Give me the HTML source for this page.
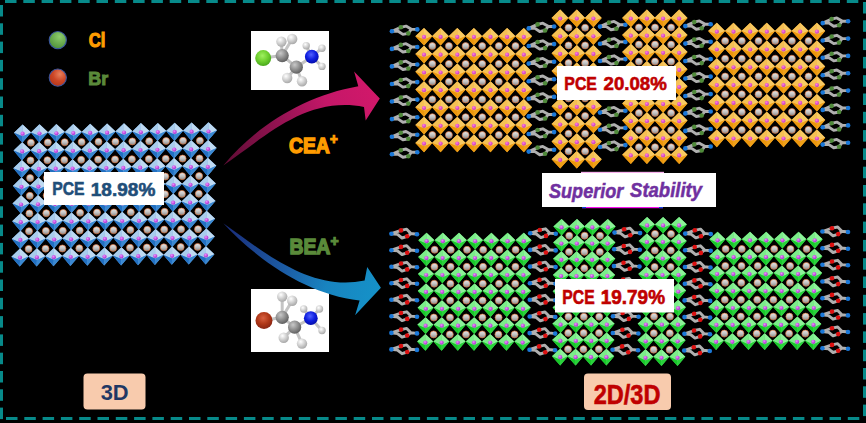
<!DOCTYPE html>
<html><head><meta charset="utf-8"><style>
html,body{margin:0;padding:0;background:#000;}
body{width:866px;height:423px;overflow:hidden;}
svg{display:block;}
</style></head><body>
<svg width="866" height="423" viewBox="0 0 866 423">
<rect width="866" height="423" fill="#000"/>

<defs>
 <linearGradient id="gs" x1="0" y1="0" x2="0" y2="1">
  <stop offset="0" stop-color="#e6e6e6"/><stop offset="0.5" stop-color="#c4c4c4"/><stop offset="1" stop-color="#8a8a8a"/>
 </linearGradient>
 <radialGradient id="gp" cx="0.4" cy="0.35" r="0.7">
  <stop offset="0" stop-color="#f090ff"/><stop offset="1" stop-color="#a020c8"/>
 </radialGradient>
 <radialGradient id="gpo" cx="0.4" cy="0.35" r="0.7">
  <stop offset="0" stop-color="#ff80e0"/><stop offset="1" stop-color="#c02cb8"/>
 </radialGradient>
 <symbol id="sph" overflow="visible"><circle r="3.5" fill="url(#gs)" stroke="#e07034" stroke-width="0.65"/></symbol>
 <symbol id="ob" overflow="visible">
  <path d="M0,-8.8 L8.5,-0.8 L-0.3,9.4 L-8.6,-0.5Z" fill="#6aa6dc"/>
  <path d="M0,-8.8 L-8.6,-0.5 L0,3Z" fill="#a9ccec"/>
  <path d="M0,-8.8 L0,3 L8.5,-0.8Z" fill="#bfdaf2"/>
  <path d="M-8.6,-0.5 L0,3 L-0.3,9.4Z" fill="#2270c2"/>
  <path d="M0,3 L8.5,-0.8 L-0.3,9.4Z" fill="#3a88d2"/>
  <circle cy="0.4" r="2.1" fill="url(#gp)"/>
 </symbol>
 <symbol id="oo" overflow="visible">
  <path d="M0,-8.7 L8.3,-0.4 L0,9 L-8.6,-0.4Z" fill="#f0a628"/>
  <path d="M0,-8.7 L-8.6,-0.4 L0,3Z" fill="#f5c054"/>
  <path d="M0,-8.7 L0,3 L8.3,-0.4Z" fill="#f8ca64"/>
  <path d="M-8.6,-0.4 L0,3 L0,9Z" fill="#ec960c"/>
  <path d="M0,3 L8.3,-0.4 L0,9Z" fill="#f0a018"/>
  <circle cy="0.3" r="2.1" fill="url(#gpo)"/>
 </symbol>
 <symbol id="og" overflow="visible">
  <path d="M0,-8.1 L7.8,-0.6 L0,8.6 L-8.2,-0.6Z" fill="#50d860"/>
  <path d="M0,-8.1 L-8.2,-0.6 L0,3Z" fill="#7cec8a"/>
  <path d="M0,-8.1 L0,3 L7.8,-0.6Z" fill="#8ef29a"/>
  <path d="M-8.2,-0.6 L0,3 L0,8.6Z" fill="#18c82a"/>
  <path d="M0,3 L7.8,-0.6 L0,8.6Z" fill="#28d23a"/>
  <circle cy="0.4" r="2.1" fill="url(#gp)"/>
 </symbol>
 <symbol id="spc" overflow="visible">
  <path d="M-12.7,0.9 L-6.4,0.9 L-1.7,4 L3.7,3 L6.8,-1.2 L1.4,-4.3 L-3.8,-3.1 Z M6.8,-1.2 L12.7,-1" fill="none" stroke="#b0b0b0" stroke-width="2.9" stroke-linejoin="round" stroke-linecap="round"/>
  <circle cx="3.7" cy="3" r="2.3" fill="#4f8a3a"/>
  <circle cx="-3.8" cy="-3.1" r="2.3" fill="#4f8a3a"/>
  <circle cx="-12.7" cy="0.9" r="2.3" fill="#1a78d8"/>
  <circle cx="12.7" cy="-1" r="2.3" fill="#1a78d8"/>
 </symbol>
 <symbol id="spb" overflow="visible">
  <path d="M-12.8,-0.3 L-6.7,0.4 L-2.2,4 L3,2.3 L6.7,-0.5 L2.5,-4.8 L-3.2,-3.6 Z M6.7,-0.5 L12.8,0.2" fill="none" stroke="#b0b0b0" stroke-width="2.9" stroke-linejoin="round" stroke-linecap="round"/>
  <circle cx="3" cy="2.3" r="2.3" fill="#dd1010"/>
  <circle cx="-3.2" cy="-3.6" r="2.3" fill="#dd1010"/>
  <circle cx="-12.8" cy="-0.3" r="2.3" fill="#1a78d8"/>
  <circle cx="12.8" cy="0.2" r="2.3" fill="#1a78d8"/>
 </symbol>
 <linearGradient id="ga1" x1="223" y1="165" x2="380" y2="95" gradientUnits="userSpaceOnUse">
  <stop offset="0" stop-color="#5e0c34"/><stop offset="0.4" stop-color="#941352"/><stop offset="0.7" stop-color="#c41768"/><stop offset="1" stop-color="#d2186a"/>
 </linearGradient>
 <linearGradient id="ga2" x1="223" y1="223" x2="381" y2="290" gradientUnits="userSpaceOnUse">
  <stop offset="0" stop-color="#1a2a78"/><stop offset="0.45" stop-color="#1c5ea6"/><stop offset="0.7" stop-color="#1884c0"/><stop offset="1" stop-color="#1592c8"/>
 </linearGradient>
 <radialGradient id="gH" cx="0.38" cy="0.32" r="0.7"><stop offset="0" stop-color="#ffffff"/><stop offset="1" stop-color="#a8a8a8"/></radialGradient>
 <radialGradient id="gC" cx="0.38" cy="0.32" r="0.7"><stop offset="0" stop-color="#c8c8c8"/><stop offset="1" stop-color="#5e5e5e"/></radialGradient>
 <radialGradient id="gN" cx="0.45" cy="0.35" r="0.7"><stop offset="0" stop-color="#5060ff"/><stop offset="0.5" stop-color="#1020e0"/><stop offset="1" stop-color="#0008a0"/></radialGradient>
 <radialGradient id="gCl" cx="0.45" cy="0.35" r="0.7"><stop offset="0" stop-color="#a0f060"/><stop offset="0.5" stop-color="#70d030"/><stop offset="1" stop-color="#40a018"/></radialGradient>
 <radialGradient id="gBr" cx="0.45" cy="0.35" r="0.7"><stop offset="0" stop-color="#d86040"/><stop offset="0.5" stop-color="#b03818"/><stop offset="1" stop-color="#802010"/></radialGradient>
 <radialGradient id="gLg" cx="0.6" cy="0.3" r="0.8"><stop offset="0" stop-color="#8ccc6c"/><stop offset="1" stop-color="#4a8c34"/></radialGradient>
 <radialGradient id="gLr" cx="0.62" cy="0.3" r="0.8"><stop offset="0" stop-color="#e8805c"/><stop offset="0.5" stop-color="#cc4626"/><stop offset="1" stop-color="#b03418"/></radialGradient>
</defs>

<g fill="#078a8a">
<rect x="5.0" y="0" width="11.5" height="3"/><rect x="23.3" y="0" width="11.5" height="3"/><rect x="41.6" y="0" width="11.5" height="3"/><rect x="59.9" y="0" width="11.5" height="3"/><rect x="78.2" y="0" width="11.5" height="3"/><rect x="96.5" y="0" width="11.5" height="3"/><rect x="114.8" y="0" width="11.5" height="3"/><rect x="133.1" y="0" width="11.5" height="3"/><rect x="151.4" y="0" width="11.5" height="3"/><rect x="169.7" y="0" width="11.5" height="3"/><rect x="188.0" y="0" width="11.5" height="3"/><rect x="206.3" y="0" width="11.5" height="3"/><rect x="224.6" y="0" width="11.5" height="3"/><rect x="242.9" y="0" width="11.5" height="3"/><rect x="261.2" y="0" width="11.5" height="3"/><rect x="279.5" y="0" width="11.5" height="3"/><rect x="297.8" y="0" width="11.5" height="3"/><rect x="316.1" y="0" width="11.5" height="3"/><rect x="334.4" y="0" width="11.5" height="3"/><rect x="352.7" y="0" width="11.5" height="3"/><rect x="371.0" y="0" width="11.5" height="3"/><rect x="389.3" y="0" width="11.5" height="3"/><rect x="407.6" y="0" width="11.5" height="3"/><rect x="425.9" y="0" width="11.5" height="3"/><rect x="444.2" y="0" width="11.5" height="3"/><rect x="462.5" y="0" width="11.5" height="3"/><rect x="480.8" y="0" width="11.5" height="3"/><rect x="499.1" y="0" width="11.5" height="3"/><rect x="517.4" y="0" width="11.5" height="3"/><rect x="535.7" y="0" width="11.5" height="3"/><rect x="554.0" y="0" width="11.5" height="3"/><rect x="572.3" y="0" width="11.5" height="3"/><rect x="590.6" y="0" width="11.5" height="3"/><rect x="608.9" y="0" width="11.5" height="3"/><rect x="627.2" y="0" width="11.5" height="3"/><rect x="645.5" y="0" width="11.5" height="3"/><rect x="663.8" y="0" width="11.5" height="3"/><rect x="682.1" y="0" width="11.5" height="3"/><rect x="700.4" y="0" width="11.5" height="3"/><rect x="718.7" y="0" width="11.5" height="3"/><rect x="737.0" y="0" width="11.5" height="3"/><rect x="755.3" y="0" width="11.5" height="3"/><rect x="773.6" y="0" width="11.5" height="3"/><rect x="791.9" y="0" width="11.5" height="3"/><rect x="810.2" y="0" width="11.5" height="3"/><rect x="828.5" y="0" width="11.5" height="3"/><rect x="846.8" y="0" width="11.5" height="3"/>
<rect x="6.0" y="417" width="11.5" height="3"/><rect x="24.3" y="417" width="11.5" height="3"/><rect x="42.6" y="417" width="11.5" height="3"/><rect x="60.9" y="417" width="11.5" height="3"/><rect x="79.2" y="417" width="11.5" height="3"/><rect x="97.5" y="417" width="11.5" height="3"/><rect x="115.8" y="417" width="11.5" height="3"/><rect x="134.1" y="417" width="11.5" height="3"/><rect x="152.4" y="417" width="11.5" height="3"/><rect x="170.7" y="417" width="11.5" height="3"/><rect x="189.0" y="417" width="11.5" height="3"/><rect x="207.3" y="417" width="11.5" height="3"/><rect x="225.6" y="417" width="11.5" height="3"/><rect x="243.9" y="417" width="11.5" height="3"/><rect x="262.2" y="417" width="11.5" height="3"/><rect x="280.5" y="417" width="11.5" height="3"/><rect x="298.8" y="417" width="11.5" height="3"/><rect x="317.1" y="417" width="11.5" height="3"/><rect x="335.4" y="417" width="11.5" height="3"/><rect x="353.7" y="417" width="11.5" height="3"/><rect x="372.0" y="417" width="11.5" height="3"/><rect x="390.3" y="417" width="11.5" height="3"/><rect x="408.6" y="417" width="11.5" height="3"/><rect x="426.9" y="417" width="11.5" height="3"/><rect x="445.2" y="417" width="11.5" height="3"/><rect x="463.5" y="417" width="11.5" height="3"/><rect x="481.8" y="417" width="11.5" height="3"/><rect x="500.1" y="417" width="11.5" height="3"/><rect x="518.4" y="417" width="11.5" height="3"/><rect x="536.7" y="417" width="11.5" height="3"/><rect x="555.0" y="417" width="11.5" height="3"/><rect x="573.3" y="417" width="11.5" height="3"/><rect x="591.6" y="417" width="11.5" height="3"/><rect x="609.9" y="417" width="11.5" height="3"/><rect x="628.2" y="417" width="11.5" height="3"/><rect x="646.5" y="417" width="11.5" height="3"/><rect x="664.8" y="417" width="11.5" height="3"/><rect x="683.1" y="417" width="11.5" height="3"/><rect x="701.4" y="417" width="11.5" height="3"/><rect x="719.7" y="417" width="11.5" height="3"/><rect x="738.0" y="417" width="11.5" height="3"/><rect x="756.3" y="417" width="11.5" height="3"/><rect x="774.6" y="417" width="11.5" height="3"/><rect x="792.9" y="417" width="11.5" height="3"/><rect x="811.2" y="417" width="11.5" height="3"/><rect x="829.5" y="417" width="11.5" height="3"/><rect x="847.8" y="417" width="11.5" height="3"/>
<rect x="0" y="5.0" width="3" height="11.5"/><rect x="0" y="23.3" width="3" height="11.5"/><rect x="0" y="41.6" width="3" height="11.5"/><rect x="0" y="59.9" width="3" height="11.5"/><rect x="0" y="78.2" width="3" height="11.5"/><rect x="0" y="96.5" width="3" height="11.5"/><rect x="0" y="114.8" width="3" height="11.5"/><rect x="0" y="133.1" width="3" height="11.5"/><rect x="0" y="151.4" width="3" height="11.5"/><rect x="0" y="169.7" width="3" height="11.5"/><rect x="0" y="188.0" width="3" height="11.5"/><rect x="0" y="206.3" width="3" height="11.5"/><rect x="0" y="224.6" width="3" height="11.5"/><rect x="0" y="242.9" width="3" height="11.5"/><rect x="0" y="261.2" width="3" height="11.5"/><rect x="0" y="279.5" width="3" height="11.5"/><rect x="0" y="297.8" width="3" height="11.5"/><rect x="0" y="316.1" width="3" height="11.5"/><rect x="0" y="334.4" width="3" height="11.5"/><rect x="0" y="352.7" width="3" height="11.5"/><rect x="0" y="371.0" width="3" height="11.5"/><rect x="0" y="389.3" width="3" height="11.5"/><rect x="0" y="407.6" width="3" height="11.5"/>
<rect x="863" y="2.0" width="3" height="11.5"/><rect x="863" y="20.3" width="3" height="11.5"/><rect x="863" y="38.6" width="3" height="11.5"/><rect x="863" y="56.9" width="3" height="11.5"/><rect x="863" y="75.2" width="3" height="11.5"/><rect x="863" y="93.5" width="3" height="11.5"/><rect x="863" y="111.8" width="3" height="11.5"/><rect x="863" y="130.1" width="3" height="11.5"/><rect x="863" y="148.4" width="3" height="11.5"/><rect x="863" y="166.7" width="3" height="11.5"/><rect x="863" y="185.0" width="3" height="11.5"/><rect x="863" y="203.3" width="3" height="11.5"/><rect x="863" y="221.6" width="3" height="11.5"/><rect x="863" y="239.9" width="3" height="11.5"/><rect x="863" y="258.2" width="3" height="11.5"/><rect x="863" y="276.5" width="3" height="11.5"/><rect x="863" y="294.8" width="3" height="11.5"/><rect x="863" y="313.1" width="3" height="11.5"/><rect x="863" y="331.4" width="3" height="11.5"/><rect x="863" y="349.7" width="3" height="11.5"/><rect x="863" y="368.0" width="3" height="11.5"/><rect x="863" y="386.3" width="3" height="11.5"/><rect x="863" y="404.6" width="3" height="11.5"/>
</g>
<circle cx="57.8" cy="40.1" r="8.6" fill="url(#gLg)" stroke="#3a56a0" stroke-width="1.1"/>
<circle cx="57.8" cy="77.6" r="8.6" fill="url(#gLr)" stroke="#3a56a0" stroke-width="1.1"/>
<use href="#sph" x="30.9" y="142.7"/>
<use href="#sph" x="47.8" y="142.4"/>
<use href="#sph" x="64.7" y="142.2"/>
<use href="#sph" x="81.6" y="142.1"/>
<use href="#sph" x="98.5" y="141.8"/>
<use href="#sph" x="115.4" y="141.7"/>
<use href="#sph" x="132.3" y="141.4"/>
<use href="#sph" x="149.2" y="141.2"/>
<use href="#sph" x="166.1" y="141.1"/>
<use href="#sph" x="183.0" y="140.8"/>
<use href="#sph" x="199.9" y="140.7"/>
<use href="#sph" x="30.5" y="160.4"/>
<use href="#sph" x="47.4" y="160.2"/>
<use href="#sph" x="64.3" y="160.0"/>
<use href="#sph" x="81.2" y="159.8"/>
<use href="#sph" x="98.1" y="159.6"/>
<use href="#sph" x="115.0" y="159.4"/>
<use href="#sph" x="131.9" y="159.2"/>
<use href="#sph" x="148.8" y="159.0"/>
<use href="#sph" x="165.7" y="158.8"/>
<use href="#sph" x="182.6" y="158.6"/>
<use href="#sph" x="199.5" y="158.4"/>
<use href="#sph" x="30.1" y="178.1"/>
<use href="#sph" x="47.0" y="177.8"/>
<use href="#sph" x="63.9" y="177.7"/>
<use href="#sph" x="80.8" y="177.5"/>
<use href="#sph" x="97.7" y="177.2"/>
<use href="#sph" x="114.6" y="177.1"/>
<use href="#sph" x="131.5" y="176.8"/>
<use href="#sph" x="148.4" y="176.7"/>
<use href="#sph" x="165.3" y="176.5"/>
<use href="#sph" x="182.2" y="176.2"/>
<use href="#sph" x="199.1" y="176.1"/>
<use href="#sph" x="29.8" y="195.8"/>
<use href="#sph" x="46.7" y="195.5"/>
<use href="#sph" x="63.6" y="195.3"/>
<use href="#sph" x="80.5" y="195.2"/>
<use href="#sph" x="97.4" y="194.9"/>
<use href="#sph" x="114.3" y="194.8"/>
<use href="#sph" x="131.2" y="194.5"/>
<use href="#sph" x="148.1" y="194.3"/>
<use href="#sph" x="165.0" y="194.2"/>
<use href="#sph" x="181.9" y="193.9"/>
<use href="#sph" x="198.8" y="193.8"/>
<use href="#sph" x="29.4" y="213.4"/>
<use href="#sph" x="46.3" y="213.2"/>
<use href="#sph" x="63.2" y="213.0"/>
<use href="#sph" x="80.1" y="212.8"/>
<use href="#sph" x="97.0" y="212.6"/>
<use href="#sph" x="113.9" y="212.4"/>
<use href="#sph" x="130.8" y="212.2"/>
<use href="#sph" x="147.7" y="212.0"/>
<use href="#sph" x="164.6" y="211.8"/>
<use href="#sph" x="181.5" y="211.6"/>
<use href="#sph" x="198.4" y="211.4"/>
<use href="#sph" x="29.0" y="231.2"/>
<use href="#sph" x="45.9" y="230.9"/>
<use href="#sph" x="62.8" y="230.8"/>
<use href="#sph" x="79.7" y="230.6"/>
<use href="#sph" x="96.6" y="230.3"/>
<use href="#sph" x="113.5" y="230.2"/>
<use href="#sph" x="130.4" y="229.9"/>
<use href="#sph" x="147.3" y="229.8"/>
<use href="#sph" x="164.2" y="229.6"/>
<use href="#sph" x="181.1" y="229.3"/>
<use href="#sph" x="198.0" y="229.2"/>
<use href="#sph" x="28.6" y="248.9"/>
<use href="#sph" x="45.5" y="248.7"/>
<use href="#sph" x="62.4" y="248.5"/>
<use href="#sph" x="79.3" y="248.3"/>
<use href="#sph" x="96.2" y="248.1"/>
<use href="#sph" x="113.1" y="247.9"/>
<use href="#sph" x="130.0" y="247.7"/>
<use href="#sph" x="146.9" y="247.5"/>
<use href="#sph" x="163.8" y="247.3"/>
<use href="#sph" x="180.7" y="247.1"/>
<use href="#sph" x="197.6" y="246.9"/>
<use href="#ob" x="22.6" y="133.3"/>
<use href="#ob" x="39.5" y="133.1"/>
<use href="#ob" x="56.4" y="132.9"/>
<use href="#ob" x="73.3" y="132.7"/>
<use href="#ob" x="90.2" y="132.5"/>
<use href="#ob" x="107.1" y="132.3"/>
<use href="#ob" x="124.0" y="132.1"/>
<use href="#ob" x="140.9" y="131.9"/>
<use href="#ob" x="157.8" y="131.7"/>
<use href="#ob" x="174.7" y="131.5"/>
<use href="#ob" x="191.6" y="131.3"/>
<use href="#ob" x="208.5" y="131.1"/>
<use href="#ob" x="22.2" y="151.0"/>
<use href="#ob" x="39.1" y="150.8"/>
<use href="#ob" x="56.0" y="150.6"/>
<use href="#ob" x="72.9" y="150.4"/>
<use href="#ob" x="89.8" y="150.2"/>
<use href="#ob" x="106.7" y="150.0"/>
<use href="#ob" x="123.6" y="149.8"/>
<use href="#ob" x="140.5" y="149.6"/>
<use href="#ob" x="157.4" y="149.4"/>
<use href="#ob" x="174.3" y="149.2"/>
<use href="#ob" x="191.2" y="149.0"/>
<use href="#ob" x="208.1" y="148.8"/>
<use href="#ob" x="21.9" y="168.7"/>
<use href="#ob" x="38.8" y="168.5"/>
<use href="#ob" x="55.7" y="168.3"/>
<use href="#ob" x="72.6" y="168.1"/>
<use href="#ob" x="89.5" y="167.9"/>
<use href="#ob" x="106.4" y="167.7"/>
<use href="#ob" x="123.3" y="167.5"/>
<use href="#ob" x="140.2" y="167.3"/>
<use href="#ob" x="157.1" y="167.1"/>
<use href="#ob" x="174.0" y="166.9"/>
<use href="#ob" x="190.9" y="166.7"/>
<use href="#ob" x="207.8" y="166.5"/>
<use href="#ob" x="21.5" y="186.4"/>
<use href="#ob" x="38.4" y="186.2"/>
<use href="#ob" x="55.3" y="186.0"/>
<use href="#ob" x="72.2" y="185.8"/>
<use href="#ob" x="89.1" y="185.6"/>
<use href="#ob" x="106.0" y="185.4"/>
<use href="#ob" x="122.9" y="185.2"/>
<use href="#ob" x="139.8" y="185.0"/>
<use href="#ob" x="156.7" y="184.8"/>
<use href="#ob" x="173.6" y="184.6"/>
<use href="#ob" x="190.5" y="184.4"/>
<use href="#ob" x="207.4" y="184.2"/>
<use href="#ob" x="21.1" y="204.1"/>
<use href="#ob" x="38.0" y="203.9"/>
<use href="#ob" x="54.9" y="203.7"/>
<use href="#ob" x="71.8" y="203.5"/>
<use href="#ob" x="88.7" y="203.3"/>
<use href="#ob" x="105.6" y="203.1"/>
<use href="#ob" x="122.5" y="202.9"/>
<use href="#ob" x="139.4" y="202.7"/>
<use href="#ob" x="156.3" y="202.5"/>
<use href="#ob" x="173.2" y="202.3"/>
<use href="#ob" x="190.1" y="202.1"/>
<use href="#ob" x="207.0" y="201.9"/>
<use href="#ob" x="20.8" y="221.8"/>
<use href="#ob" x="37.6" y="221.6"/>
<use href="#ob" x="54.5" y="221.4"/>
<use href="#ob" x="71.5" y="221.2"/>
<use href="#ob" x="88.3" y="221.0"/>
<use href="#ob" x="105.2" y="220.8"/>
<use href="#ob" x="122.2" y="220.6"/>
<use href="#ob" x="139.0" y="220.4"/>
<use href="#ob" x="155.9" y="220.2"/>
<use href="#ob" x="172.8" y="220.0"/>
<use href="#ob" x="189.8" y="219.8"/>
<use href="#ob" x="206.6" y="219.6"/>
<use href="#ob" x="20.4" y="239.5"/>
<use href="#ob" x="37.3" y="239.3"/>
<use href="#ob" x="54.2" y="239.1"/>
<use href="#ob" x="71.1" y="238.9"/>
<use href="#ob" x="88.0" y="238.7"/>
<use href="#ob" x="104.9" y="238.5"/>
<use href="#ob" x="121.8" y="238.3"/>
<use href="#ob" x="138.7" y="238.1"/>
<use href="#ob" x="155.6" y="237.9"/>
<use href="#ob" x="172.5" y="237.7"/>
<use href="#ob" x="189.4" y="237.5"/>
<use href="#ob" x="206.3" y="237.3"/>
<use href="#ob" x="20.0" y="257.2"/>
<use href="#ob" x="36.9" y="257.0"/>
<use href="#ob" x="53.8" y="256.8"/>
<use href="#ob" x="70.7" y="256.6"/>
<use href="#ob" x="87.6" y="256.4"/>
<use href="#ob" x="104.5" y="256.2"/>
<use href="#ob" x="121.4" y="256.0"/>
<use href="#ob" x="138.3" y="255.8"/>
<use href="#ob" x="155.2" y="255.6"/>
<use href="#ob" x="172.1" y="255.4"/>
<use href="#ob" x="189.0" y="255.2"/>
<use href="#ob" x="205.9" y="255.0"/>
<use href="#spc" x="404.6" y="30.4"/>
<use href="#spc" x="404.6" y="48.0"/>
<use href="#spc" x="404.6" y="65.5"/>
<use href="#spc" x="404.6" y="83.1"/>
<use href="#spc" x="404.6" y="100.6"/>
<use href="#spc" x="404.6" y="118.2"/>
<use href="#spc" x="404.6" y="135.8"/>
<use href="#spc" x="404.6" y="153.3"/>
<use href="#sph" x="432.3" y="46.1"/>
<use href="#sph" x="448.9" y="46.1"/>
<use href="#sph" x="465.6" y="46.1"/>
<use href="#sph" x="482.2" y="46.1"/>
<use href="#sph" x="498.8" y="46.1"/>
<use href="#sph" x="515.5" y="46.1"/>
<use href="#sph" x="432.3" y="63.9"/>
<use href="#sph" x="448.9" y="63.9"/>
<use href="#sph" x="465.6" y="63.9"/>
<use href="#sph" x="482.2" y="63.9"/>
<use href="#sph" x="498.8" y="63.9"/>
<use href="#sph" x="515.5" y="63.9"/>
<use href="#sph" x="432.3" y="81.7"/>
<use href="#sph" x="448.9" y="81.7"/>
<use href="#sph" x="465.6" y="81.7"/>
<use href="#sph" x="482.2" y="81.7"/>
<use href="#sph" x="498.8" y="81.7"/>
<use href="#sph" x="515.5" y="81.7"/>
<use href="#sph" x="432.3" y="99.4"/>
<use href="#sph" x="448.9" y="99.4"/>
<use href="#sph" x="465.6" y="99.4"/>
<use href="#sph" x="482.2" y="99.4"/>
<use href="#sph" x="498.8" y="99.4"/>
<use href="#sph" x="515.5" y="99.4"/>
<use href="#sph" x="432.3" y="117.2"/>
<use href="#sph" x="448.9" y="117.2"/>
<use href="#sph" x="465.6" y="117.2"/>
<use href="#sph" x="482.2" y="117.2"/>
<use href="#sph" x="498.8" y="117.2"/>
<use href="#sph" x="515.5" y="117.2"/>
<use href="#sph" x="432.3" y="135.0"/>
<use href="#sph" x="448.9" y="135.0"/>
<use href="#sph" x="465.6" y="135.0"/>
<use href="#sph" x="482.2" y="135.0"/>
<use href="#sph" x="498.8" y="135.0"/>
<use href="#sph" x="515.5" y="135.0"/>
<use href="#oo" x="424.0" y="36.6"/>
<use href="#oo" x="440.6" y="36.6"/>
<use href="#oo" x="457.3" y="36.6"/>
<use href="#oo" x="473.9" y="36.6"/>
<use href="#oo" x="490.5" y="36.6"/>
<use href="#oo" x="507.1" y="36.6"/>
<use href="#oo" x="523.8" y="36.6"/>
<use href="#oo" x="424.0" y="54.4"/>
<use href="#oo" x="440.6" y="54.4"/>
<use href="#oo" x="457.3" y="54.4"/>
<use href="#oo" x="473.9" y="54.4"/>
<use href="#oo" x="490.5" y="54.4"/>
<use href="#oo" x="507.1" y="54.4"/>
<use href="#oo" x="523.8" y="54.4"/>
<use href="#oo" x="424.0" y="72.2"/>
<use href="#oo" x="440.6" y="72.2"/>
<use href="#oo" x="457.3" y="72.2"/>
<use href="#oo" x="473.9" y="72.2"/>
<use href="#oo" x="490.5" y="72.2"/>
<use href="#oo" x="507.1" y="72.2"/>
<use href="#oo" x="523.8" y="72.2"/>
<use href="#oo" x="424.0" y="89.9"/>
<use href="#oo" x="440.6" y="89.9"/>
<use href="#oo" x="457.3" y="89.9"/>
<use href="#oo" x="473.9" y="89.9"/>
<use href="#oo" x="490.5" y="89.9"/>
<use href="#oo" x="507.1" y="89.9"/>
<use href="#oo" x="523.8" y="89.9"/>
<use href="#oo" x="424.0" y="107.7"/>
<use href="#oo" x="440.6" y="107.7"/>
<use href="#oo" x="457.3" y="107.7"/>
<use href="#oo" x="473.9" y="107.7"/>
<use href="#oo" x="490.5" y="107.7"/>
<use href="#oo" x="507.1" y="107.7"/>
<use href="#oo" x="523.8" y="107.7"/>
<use href="#oo" x="424.0" y="125.5"/>
<use href="#oo" x="440.6" y="125.5"/>
<use href="#oo" x="457.3" y="125.5"/>
<use href="#oo" x="473.9" y="125.5"/>
<use href="#oo" x="490.5" y="125.5"/>
<use href="#oo" x="507.1" y="125.5"/>
<use href="#oo" x="523.8" y="125.5"/>
<use href="#oo" x="424.0" y="143.3"/>
<use href="#oo" x="440.6" y="143.3"/>
<use href="#oo" x="457.3" y="143.3"/>
<use href="#oo" x="473.9" y="143.3"/>
<use href="#oo" x="490.5" y="143.3"/>
<use href="#oo" x="507.1" y="143.3"/>
<use href="#oo" x="523.8" y="143.3"/>
<use href="#spc" x="541.4" y="27.5"/>
<use href="#spc" x="541.4" y="45.1"/>
<use href="#spc" x="541.4" y="62.7"/>
<use href="#spc" x="541.4" y="80.3"/>
<use href="#spc" x="541.4" y="97.9"/>
<use href="#spc" x="541.4" y="115.5"/>
<use href="#spc" x="541.4" y="133.1"/>
<use href="#spc" x="541.4" y="150.7"/>
<use href="#sph" x="568.5" y="27.7"/>
<use href="#sph" x="585.1" y="27.7"/>
<use href="#sph" x="568.5" y="45.4"/>
<use href="#sph" x="585.1" y="45.4"/>
<use href="#sph" x="568.5" y="63.1"/>
<use href="#sph" x="585.1" y="63.1"/>
<use href="#sph" x="568.5" y="80.7"/>
<use href="#sph" x="585.1" y="80.7"/>
<use href="#sph" x="568.5" y="98.4"/>
<use href="#sph" x="585.1" y="98.4"/>
<use href="#sph" x="568.5" y="116.0"/>
<use href="#sph" x="585.1" y="116.0"/>
<use href="#sph" x="568.5" y="133.7"/>
<use href="#sph" x="585.1" y="133.7"/>
<use href="#sph" x="568.5" y="151.3"/>
<use href="#sph" x="585.1" y="151.3"/>
<use href="#oo" x="560.2" y="18.3"/>
<use href="#oo" x="576.8" y="18.3"/>
<use href="#oo" x="593.4" y="18.3"/>
<use href="#oo" x="560.2" y="36.0"/>
<use href="#oo" x="576.8" y="36.0"/>
<use href="#oo" x="593.4" y="36.0"/>
<use href="#oo" x="560.2" y="53.6"/>
<use href="#oo" x="576.8" y="53.6"/>
<use href="#oo" x="593.4" y="53.6"/>
<use href="#oo" x="560.2" y="71.3"/>
<use href="#oo" x="576.8" y="71.3"/>
<use href="#oo" x="593.4" y="71.3"/>
<use href="#oo" x="560.2" y="88.9"/>
<use href="#oo" x="576.8" y="88.9"/>
<use href="#oo" x="593.4" y="88.9"/>
<use href="#oo" x="560.2" y="106.6"/>
<use href="#oo" x="576.8" y="106.6"/>
<use href="#oo" x="593.4" y="106.6"/>
<use href="#oo" x="560.2" y="124.3"/>
<use href="#oo" x="576.8" y="124.3"/>
<use href="#oo" x="593.4" y="124.3"/>
<use href="#oo" x="560.2" y="141.9"/>
<use href="#oo" x="576.8" y="141.9"/>
<use href="#oo" x="593.4" y="141.9"/>
<use href="#oo" x="560.2" y="159.6"/>
<use href="#oo" x="576.8" y="159.6"/>
<use href="#oo" x="593.4" y="159.6"/>
<use href="#spc" x="612.7" y="25.7"/>
<use href="#spc" x="612.7" y="42.9"/>
<use href="#spc" x="612.7" y="60.1"/>
<use href="#spc" x="612.7" y="77.3"/>
<use href="#spc" x="612.7" y="94.5"/>
<use href="#spc" x="612.7" y="111.7"/>
<use href="#spc" x="612.7" y="128.9"/>
<use href="#spc" x="612.7" y="146.1"/>
<use href="#sph" x="638.9" y="27.5"/>
<use href="#sph" x="655.0" y="27.5"/>
<use href="#sph" x="671.1" y="27.5"/>
<use href="#sph" x="638.9" y="44.6"/>
<use href="#sph" x="655.0" y="44.6"/>
<use href="#sph" x="671.1" y="44.6"/>
<use href="#sph" x="638.9" y="61.6"/>
<use href="#sph" x="655.0" y="61.6"/>
<use href="#sph" x="671.1" y="61.6"/>
<use href="#sph" x="638.9" y="78.8"/>
<use href="#sph" x="655.0" y="78.8"/>
<use href="#sph" x="671.1" y="78.8"/>
<use href="#sph" x="638.9" y="95.8"/>
<use href="#sph" x="655.0" y="95.8"/>
<use href="#sph" x="671.1" y="95.8"/>
<use href="#sph" x="638.9" y="113.0"/>
<use href="#sph" x="655.0" y="113.0"/>
<use href="#sph" x="671.1" y="113.0"/>
<use href="#sph" x="638.9" y="130.1"/>
<use href="#sph" x="655.0" y="130.1"/>
<use href="#sph" x="671.1" y="130.1"/>
<use href="#sph" x="638.9" y="147.2"/>
<use href="#sph" x="655.0" y="147.2"/>
<use href="#sph" x="671.1" y="147.2"/>
<use href="#oo" x="630.8" y="18.3"/>
<use href="#oo" x="646.9" y="18.3"/>
<use href="#oo" x="663.1" y="18.3"/>
<use href="#oo" x="679.2" y="18.3"/>
<use href="#oo" x="630.8" y="35.4"/>
<use href="#oo" x="646.9" y="35.4"/>
<use href="#oo" x="663.1" y="35.4"/>
<use href="#oo" x="679.2" y="35.4"/>
<use href="#oo" x="630.8" y="52.5"/>
<use href="#oo" x="646.9" y="52.5"/>
<use href="#oo" x="663.1" y="52.5"/>
<use href="#oo" x="679.2" y="52.5"/>
<use href="#oo" x="630.8" y="69.6"/>
<use href="#oo" x="646.9" y="69.6"/>
<use href="#oo" x="663.1" y="69.6"/>
<use href="#oo" x="679.2" y="69.6"/>
<use href="#oo" x="630.8" y="86.7"/>
<use href="#oo" x="646.9" y="86.7"/>
<use href="#oo" x="663.1" y="86.7"/>
<use href="#oo" x="679.2" y="86.7"/>
<use href="#oo" x="630.8" y="103.8"/>
<use href="#oo" x="646.9" y="103.8"/>
<use href="#oo" x="663.1" y="103.8"/>
<use href="#oo" x="679.2" y="103.8"/>
<use href="#oo" x="630.8" y="120.9"/>
<use href="#oo" x="646.9" y="120.9"/>
<use href="#oo" x="663.1" y="120.9"/>
<use href="#oo" x="679.2" y="120.9"/>
<use href="#oo" x="630.8" y="138.0"/>
<use href="#oo" x="646.9" y="138.0"/>
<use href="#oo" x="663.1" y="138.0"/>
<use href="#oo" x="679.2" y="138.0"/>
<use href="#oo" x="630.8" y="155.1"/>
<use href="#oo" x="646.9" y="155.1"/>
<use href="#oo" x="663.1" y="155.1"/>
<use href="#oo" x="679.2" y="155.1"/>
<use href="#spc" x="698.0" y="25.2"/>
<use href="#spc" x="698.0" y="42.7"/>
<use href="#spc" x="698.0" y="60.1"/>
<use href="#spc" x="698.0" y="77.6"/>
<use href="#spc" x="698.0" y="95.1"/>
<use href="#spc" x="698.0" y="112.5"/>
<use href="#spc" x="698.0" y="130.0"/>
<use href="#spc" x="698.0" y="147.5"/>
<use href="#sph" x="725.1" y="40.9"/>
<use href="#sph" x="741.8" y="40.9"/>
<use href="#sph" x="758.5" y="40.9"/>
<use href="#sph" x="775.2" y="40.9"/>
<use href="#sph" x="791.9" y="40.9"/>
<use href="#sph" x="808.5" y="40.9"/>
<use href="#sph" x="725.1" y="58.7"/>
<use href="#sph" x="741.8" y="58.7"/>
<use href="#sph" x="758.5" y="58.7"/>
<use href="#sph" x="775.2" y="58.7"/>
<use href="#sph" x="791.9" y="58.7"/>
<use href="#sph" x="808.5" y="58.7"/>
<use href="#sph" x="725.1" y="76.5"/>
<use href="#sph" x="741.8" y="76.5"/>
<use href="#sph" x="758.5" y="76.5"/>
<use href="#sph" x="775.2" y="76.5"/>
<use href="#sph" x="791.9" y="76.5"/>
<use href="#sph" x="808.5" y="76.5"/>
<use href="#sph" x="725.1" y="94.3"/>
<use href="#sph" x="741.8" y="94.3"/>
<use href="#sph" x="758.5" y="94.3"/>
<use href="#sph" x="775.2" y="94.3"/>
<use href="#sph" x="791.9" y="94.3"/>
<use href="#sph" x="808.5" y="94.3"/>
<use href="#sph" x="725.1" y="112.1"/>
<use href="#sph" x="741.8" y="112.1"/>
<use href="#sph" x="758.5" y="112.1"/>
<use href="#sph" x="775.2" y="112.1"/>
<use href="#sph" x="791.9" y="112.1"/>
<use href="#sph" x="808.5" y="112.1"/>
<use href="#sph" x="725.1" y="129.9"/>
<use href="#sph" x="741.8" y="129.9"/>
<use href="#sph" x="758.5" y="129.9"/>
<use href="#sph" x="775.2" y="129.9"/>
<use href="#sph" x="791.9" y="129.9"/>
<use href="#sph" x="808.5" y="129.9"/>
<use href="#oo" x="716.8" y="31.4"/>
<use href="#oo" x="733.5" y="31.4"/>
<use href="#oo" x="750.2" y="31.4"/>
<use href="#oo" x="766.8" y="31.4"/>
<use href="#oo" x="783.5" y="31.4"/>
<use href="#oo" x="800.2" y="31.4"/>
<use href="#oo" x="816.9" y="31.4"/>
<use href="#oo" x="716.8" y="49.2"/>
<use href="#oo" x="733.5" y="49.2"/>
<use href="#oo" x="750.2" y="49.2"/>
<use href="#oo" x="766.8" y="49.2"/>
<use href="#oo" x="783.5" y="49.2"/>
<use href="#oo" x="800.2" y="49.2"/>
<use href="#oo" x="816.9" y="49.2"/>
<use href="#oo" x="716.8" y="67.0"/>
<use href="#oo" x="733.5" y="67.0"/>
<use href="#oo" x="750.2" y="67.0"/>
<use href="#oo" x="766.8" y="67.0"/>
<use href="#oo" x="783.5" y="67.0"/>
<use href="#oo" x="800.2" y="67.0"/>
<use href="#oo" x="816.9" y="67.0"/>
<use href="#oo" x="716.8" y="84.8"/>
<use href="#oo" x="733.5" y="84.8"/>
<use href="#oo" x="750.2" y="84.8"/>
<use href="#oo" x="766.8" y="84.8"/>
<use href="#oo" x="783.5" y="84.8"/>
<use href="#oo" x="800.2" y="84.8"/>
<use href="#oo" x="816.9" y="84.8"/>
<use href="#oo" x="716.8" y="102.6"/>
<use href="#oo" x="733.5" y="102.6"/>
<use href="#oo" x="750.2" y="102.6"/>
<use href="#oo" x="766.8" y="102.6"/>
<use href="#oo" x="783.5" y="102.6"/>
<use href="#oo" x="800.2" y="102.6"/>
<use href="#oo" x="816.9" y="102.6"/>
<use href="#oo" x="716.8" y="120.4"/>
<use href="#oo" x="733.5" y="120.4"/>
<use href="#oo" x="750.2" y="120.4"/>
<use href="#oo" x="766.8" y="120.4"/>
<use href="#oo" x="783.5" y="120.4"/>
<use href="#oo" x="800.2" y="120.4"/>
<use href="#oo" x="816.9" y="120.4"/>
<use href="#oo" x="716.8" y="138.2"/>
<use href="#oo" x="733.5" y="138.2"/>
<use href="#oo" x="750.2" y="138.2"/>
<use href="#oo" x="766.8" y="138.2"/>
<use href="#oo" x="783.5" y="138.2"/>
<use href="#oo" x="800.2" y="138.2"/>
<use href="#oo" x="816.9" y="138.2"/>
<use href="#spc" x="835.4" y="22.2"/>
<use href="#spc" x="835.4" y="39.6"/>
<use href="#spc" x="835.4" y="56.9"/>
<use href="#spc" x="835.4" y="74.3"/>
<use href="#spc" x="835.4" y="91.6"/>
<use href="#spc" x="835.4" y="109.0"/>
<use href="#spc" x="835.4" y="126.4"/>
<use href="#spc" x="835.4" y="143.7"/>
<use href="#spb" x="404.2" y="234.0"/>
<use href="#spb" x="404.2" y="250.5"/>
<use href="#spb" x="404.2" y="267.1"/>
<use href="#spb" x="404.2" y="283.6"/>
<use href="#spb" x="404.2" y="300.1"/>
<use href="#spb" x="404.2" y="316.6"/>
<use href="#spb" x="404.2" y="333.2"/>
<use href="#spb" x="404.2" y="349.7"/>
<use href="#sph" x="434.6" y="249.8"/>
<use href="#sph" x="450.8" y="249.8"/>
<use href="#sph" x="467.0" y="249.8"/>
<use href="#sph" x="483.2" y="249.8"/>
<use href="#sph" x="499.4" y="249.8"/>
<use href="#sph" x="515.6" y="249.8"/>
<use href="#sph" x="434.4" y="266.8"/>
<use href="#sph" x="450.6" y="266.8"/>
<use href="#sph" x="466.8" y="266.8"/>
<use href="#sph" x="483.0" y="266.8"/>
<use href="#sph" x="499.2" y="266.8"/>
<use href="#sph" x="515.4" y="266.8"/>
<use href="#sph" x="434.2" y="283.7"/>
<use href="#sph" x="450.4" y="283.7"/>
<use href="#sph" x="466.6" y="283.7"/>
<use href="#sph" x="482.8" y="283.7"/>
<use href="#sph" x="499.0" y="283.7"/>
<use href="#sph" x="515.2" y="283.7"/>
<use href="#sph" x="434.0" y="300.6"/>
<use href="#sph" x="450.2" y="300.6"/>
<use href="#sph" x="466.4" y="300.6"/>
<use href="#sph" x="482.6" y="300.6"/>
<use href="#sph" x="498.8" y="300.6"/>
<use href="#sph" x="515.0" y="300.6"/>
<use href="#sph" x="433.8" y="317.5"/>
<use href="#sph" x="450.0" y="317.5"/>
<use href="#sph" x="466.2" y="317.5"/>
<use href="#sph" x="482.4" y="317.5"/>
<use href="#sph" x="498.6" y="317.5"/>
<use href="#sph" x="514.8" y="317.5"/>
<use href="#sph" x="433.6" y="334.4"/>
<use href="#sph" x="449.8" y="334.4"/>
<use href="#sph" x="466.0" y="334.4"/>
<use href="#sph" x="482.2" y="334.4"/>
<use href="#sph" x="498.4" y="334.4"/>
<use href="#sph" x="514.6" y="334.4"/>
<use href="#og" x="426.6" y="240.8"/>
<use href="#og" x="442.8" y="240.8"/>
<use href="#og" x="459.0" y="240.8"/>
<use href="#og" x="475.2" y="240.8"/>
<use href="#og" x="491.4" y="240.8"/>
<use href="#og" x="507.6" y="240.8"/>
<use href="#og" x="523.8" y="240.8"/>
<use href="#og" x="426.4" y="257.7"/>
<use href="#og" x="442.6" y="257.7"/>
<use href="#og" x="458.8" y="257.7"/>
<use href="#og" x="475.0" y="257.7"/>
<use href="#og" x="491.2" y="257.7"/>
<use href="#og" x="507.4" y="257.7"/>
<use href="#og" x="523.6" y="257.7"/>
<use href="#og" x="426.2" y="274.6"/>
<use href="#og" x="442.4" y="274.6"/>
<use href="#og" x="458.6" y="274.6"/>
<use href="#og" x="474.8" y="274.6"/>
<use href="#og" x="491.0" y="274.6"/>
<use href="#og" x="507.2" y="274.6"/>
<use href="#og" x="523.4" y="274.6"/>
<use href="#og" x="426.0" y="291.5"/>
<use href="#og" x="442.2" y="291.5"/>
<use href="#og" x="458.4" y="291.5"/>
<use href="#og" x="474.6" y="291.5"/>
<use href="#og" x="490.8" y="291.5"/>
<use href="#og" x="507.0" y="291.5"/>
<use href="#og" x="523.2" y="291.5"/>
<use href="#og" x="425.8" y="308.4"/>
<use href="#og" x="442.0" y="308.4"/>
<use href="#og" x="458.2" y="308.4"/>
<use href="#og" x="474.4" y="308.4"/>
<use href="#og" x="490.6" y="308.4"/>
<use href="#og" x="506.8" y="308.4"/>
<use href="#og" x="523.0" y="308.4"/>
<use href="#og" x="425.6" y="325.3"/>
<use href="#og" x="441.8" y="325.3"/>
<use href="#og" x="458.0" y="325.3"/>
<use href="#og" x="474.2" y="325.3"/>
<use href="#og" x="490.4" y="325.3"/>
<use href="#og" x="506.6" y="325.3"/>
<use href="#og" x="522.8" y="325.3"/>
<use href="#og" x="425.4" y="342.2"/>
<use href="#og" x="441.6" y="342.2"/>
<use href="#og" x="457.8" y="342.2"/>
<use href="#og" x="474.0" y="342.2"/>
<use href="#og" x="490.2" y="342.2"/>
<use href="#og" x="506.4" y="342.2"/>
<use href="#og" x="522.6" y="342.2"/>
<use href="#spb" x="543.0" y="233.6"/>
<use href="#spb" x="542.9" y="250.2"/>
<use href="#spb" x="542.8" y="266.9"/>
<use href="#spb" x="542.7" y="283.5"/>
<use href="#spb" x="542.6" y="300.1"/>
<use href="#spb" x="542.5" y="316.8"/>
<use href="#spb" x="542.4" y="333.4"/>
<use href="#spb" x="542.3" y="350.0"/>
<use href="#sph" x="569.2" y="235.7"/>
<use href="#sph" x="584.6" y="235.7"/>
<use href="#sph" x="600.0" y="235.7"/>
<use href="#sph" x="569.0" y="251.9"/>
<use href="#sph" x="584.4" y="251.9"/>
<use href="#sph" x="599.8" y="251.9"/>
<use href="#sph" x="568.9" y="268.2"/>
<use href="#sph" x="584.3" y="268.2"/>
<use href="#sph" x="599.7" y="268.2"/>
<use href="#sph" x="568.7" y="284.4"/>
<use href="#sph" x="584.1" y="284.4"/>
<use href="#sph" x="599.5" y="284.4"/>
<use href="#sph" x="568.5" y="300.6"/>
<use href="#sph" x="583.9" y="300.6"/>
<use href="#sph" x="599.3" y="300.6"/>
<use href="#sph" x="568.4" y="316.8"/>
<use href="#sph" x="583.8" y="316.8"/>
<use href="#sph" x="599.2" y="316.8"/>
<use href="#sph" x="568.2" y="333.0"/>
<use href="#sph" x="583.6" y="333.0"/>
<use href="#sph" x="599.0" y="333.0"/>
<use href="#sph" x="568.0" y="349.2"/>
<use href="#sph" x="583.4" y="349.2"/>
<use href="#sph" x="598.8" y="349.2"/>
<use href="#og" x="561.6" y="227.0"/>
<use href="#og" x="577.0" y="227.0"/>
<use href="#og" x="592.4" y="227.0"/>
<use href="#og" x="607.8" y="227.0"/>
<use href="#og" x="561.4" y="243.2"/>
<use href="#og" x="576.8" y="243.2"/>
<use href="#og" x="592.2" y="243.2"/>
<use href="#og" x="607.6" y="243.2"/>
<use href="#og" x="561.3" y="259.4"/>
<use href="#og" x="576.7" y="259.4"/>
<use href="#og" x="592.1" y="259.4"/>
<use href="#og" x="607.5" y="259.4"/>
<use href="#og" x="561.1" y="275.7"/>
<use href="#og" x="576.5" y="275.7"/>
<use href="#og" x="591.9" y="275.7"/>
<use href="#og" x="607.3" y="275.7"/>
<use href="#og" x="560.9" y="291.9"/>
<use href="#og" x="576.3" y="291.9"/>
<use href="#og" x="591.7" y="291.9"/>
<use href="#og" x="607.1" y="291.9"/>
<use href="#og" x="560.8" y="308.1"/>
<use href="#og" x="576.1" y="308.1"/>
<use href="#og" x="591.5" y="308.1"/>
<use href="#og" x="607.0" y="308.1"/>
<use href="#og" x="560.6" y="324.3"/>
<use href="#og" x="576.0" y="324.3"/>
<use href="#og" x="591.4" y="324.3"/>
<use href="#og" x="606.8" y="324.3"/>
<use href="#og" x="560.4" y="340.5"/>
<use href="#og" x="575.8" y="340.5"/>
<use href="#og" x="591.2" y="340.5"/>
<use href="#og" x="606.6" y="340.5"/>
<use href="#og" x="560.2" y="356.8"/>
<use href="#og" x="575.6" y="356.8"/>
<use href="#og" x="591.0" y="356.8"/>
<use href="#og" x="606.4" y="356.8"/>
<use href="#spb" x="627.3" y="232.9"/>
<use href="#spb" x="627.0" y="249.6"/>
<use href="#spb" x="626.7" y="266.4"/>
<use href="#spb" x="626.4" y="283.1"/>
<use href="#spb" x="626.1" y="299.8"/>
<use href="#spb" x="625.8" y="316.6"/>
<use href="#spb" x="625.6" y="333.3"/>
<use href="#spb" x="625.3" y="350.0"/>
<use href="#sph" x="655.0" y="233.9"/>
<use href="#sph" x="671.0" y="233.9"/>
<use href="#sph" x="654.8" y="250.4"/>
<use href="#sph" x="670.8" y="250.4"/>
<use href="#sph" x="654.6" y="267.0"/>
<use href="#sph" x="670.6" y="267.0"/>
<use href="#sph" x="654.4" y="283.5"/>
<use href="#sph" x="670.4" y="283.5"/>
<use href="#sph" x="654.2" y="300.1"/>
<use href="#sph" x="670.2" y="300.1"/>
<use href="#sph" x="654.0" y="316.6"/>
<use href="#sph" x="670.0" y="316.6"/>
<use href="#sph" x="653.8" y="333.2"/>
<use href="#sph" x="669.8" y="333.2"/>
<use href="#sph" x="653.6" y="349.7"/>
<use href="#sph" x="669.6" y="349.7"/>
<use href="#og" x="647.1" y="225.0"/>
<use href="#og" x="663.1" y="225.0"/>
<use href="#og" x="679.1" y="225.0"/>
<use href="#og" x="646.9" y="241.6"/>
<use href="#og" x="662.9" y="241.6"/>
<use href="#og" x="678.9" y="241.6"/>
<use href="#og" x="646.7" y="258.1"/>
<use href="#og" x="662.7" y="258.1"/>
<use href="#og" x="678.7" y="258.1"/>
<use href="#og" x="646.5" y="274.6"/>
<use href="#og" x="662.5" y="274.6"/>
<use href="#og" x="678.5" y="274.6"/>
<use href="#og" x="646.3" y="291.2"/>
<use href="#og" x="662.3" y="291.2"/>
<use href="#og" x="678.3" y="291.2"/>
<use href="#og" x="646.1" y="307.8"/>
<use href="#og" x="662.1" y="307.8"/>
<use href="#og" x="678.1" y="307.8"/>
<use href="#og" x="645.9" y="324.3"/>
<use href="#og" x="661.9" y="324.3"/>
<use href="#og" x="677.9" y="324.3"/>
<use href="#og" x="645.7" y="340.9"/>
<use href="#og" x="661.7" y="340.9"/>
<use href="#og" x="677.7" y="340.9"/>
<use href="#og" x="645.5" y="357.4"/>
<use href="#og" x="661.5" y="357.4"/>
<use href="#og" x="677.5" y="357.4"/>
<use href="#spb" x="698.0" y="233.9"/>
<use href="#spb" x="697.9" y="250.6"/>
<use href="#spb" x="697.7" y="267.3"/>
<use href="#spb" x="697.6" y="284.0"/>
<use href="#spb" x="697.4" y="300.7"/>
<use href="#spb" x="697.3" y="317.4"/>
<use href="#spb" x="697.2" y="334.1"/>
<use href="#spb" x="697.0" y="350.8"/>
<use href="#sph" x="725.6" y="249.0"/>
<use href="#sph" x="741.8" y="249.0"/>
<use href="#sph" x="758.0" y="249.0"/>
<use href="#sph" x="774.2" y="249.0"/>
<use href="#sph" x="790.4" y="249.0"/>
<use href="#sph" x="806.6" y="249.0"/>
<use href="#sph" x="725.3" y="265.9"/>
<use href="#sph" x="741.5" y="265.9"/>
<use href="#sph" x="757.7" y="265.9"/>
<use href="#sph" x="773.9" y="265.9"/>
<use href="#sph" x="790.1" y="265.9"/>
<use href="#sph" x="806.3" y="265.9"/>
<use href="#sph" x="725.1" y="282.8"/>
<use href="#sph" x="741.3" y="282.8"/>
<use href="#sph" x="757.5" y="282.8"/>
<use href="#sph" x="773.7" y="282.8"/>
<use href="#sph" x="789.9" y="282.8"/>
<use href="#sph" x="806.1" y="282.8"/>
<use href="#sph" x="724.8" y="299.7"/>
<use href="#sph" x="741.0" y="299.7"/>
<use href="#sph" x="757.2" y="299.7"/>
<use href="#sph" x="773.4" y="299.7"/>
<use href="#sph" x="789.6" y="299.7"/>
<use href="#sph" x="805.8" y="299.7"/>
<use href="#sph" x="724.6" y="316.6"/>
<use href="#sph" x="740.8" y="316.6"/>
<use href="#sph" x="757.0" y="316.6"/>
<use href="#sph" x="773.2" y="316.6"/>
<use href="#sph" x="789.4" y="316.6"/>
<use href="#sph" x="805.6" y="316.6"/>
<use href="#sph" x="724.3" y="333.6"/>
<use href="#sph" x="740.5" y="333.6"/>
<use href="#sph" x="756.7" y="333.6"/>
<use href="#sph" x="772.9" y="333.6"/>
<use href="#sph" x="789.1" y="333.6"/>
<use href="#sph" x="805.3" y="333.6"/>
<use href="#og" x="717.6" y="239.9"/>
<use href="#og" x="733.8" y="239.9"/>
<use href="#og" x="750.0" y="239.9"/>
<use href="#og" x="766.2" y="239.9"/>
<use href="#og" x="782.4" y="239.9"/>
<use href="#og" x="798.6" y="239.9"/>
<use href="#og" x="814.8" y="239.9"/>
<use href="#og" x="717.4" y="256.8"/>
<use href="#og" x="733.6" y="256.8"/>
<use href="#og" x="749.8" y="256.8"/>
<use href="#og" x="766.0" y="256.8"/>
<use href="#og" x="782.1" y="256.8"/>
<use href="#og" x="798.4" y="256.8"/>
<use href="#og" x="814.5" y="256.8"/>
<use href="#og" x="717.1" y="273.7"/>
<use href="#og" x="733.3" y="273.7"/>
<use href="#og" x="749.5" y="273.7"/>
<use href="#og" x="765.7" y="273.7"/>
<use href="#og" x="781.9" y="273.7"/>
<use href="#og" x="798.1" y="273.7"/>
<use href="#og" x="814.3" y="273.7"/>
<use href="#og" x="716.9" y="290.7"/>
<use href="#og" x="733.1" y="290.7"/>
<use href="#og" x="749.2" y="290.7"/>
<use href="#og" x="765.5" y="290.7"/>
<use href="#og" x="781.6" y="290.7"/>
<use href="#og" x="797.9" y="290.7"/>
<use href="#og" x="814.0" y="290.7"/>
<use href="#og" x="716.6" y="307.6"/>
<use href="#og" x="732.8" y="307.6"/>
<use href="#og" x="749.0" y="307.6"/>
<use href="#og" x="765.2" y="307.6"/>
<use href="#og" x="781.4" y="307.6"/>
<use href="#og" x="797.6" y="307.6"/>
<use href="#og" x="813.8" y="307.6"/>
<use href="#og" x="716.4" y="324.5"/>
<use href="#og" x="732.6" y="324.5"/>
<use href="#og" x="748.8" y="324.5"/>
<use href="#og" x="765.0" y="324.5"/>
<use href="#og" x="781.1" y="324.5"/>
<use href="#og" x="797.4" y="324.5"/>
<use href="#og" x="813.5" y="324.5"/>
<use href="#og" x="716.1" y="341.4"/>
<use href="#og" x="732.3" y="341.4"/>
<use href="#og" x="748.5" y="341.4"/>
<use href="#og" x="764.7" y="341.4"/>
<use href="#og" x="780.9" y="341.4"/>
<use href="#og" x="797.1" y="341.4"/>
<use href="#og" x="813.3" y="341.4"/>
<use href="#spb" x="835.2" y="231.8"/>
<use href="#spb" x="835.2" y="248.5"/>
<use href="#spb" x="835.2" y="265.1"/>
<use href="#spb" x="835.2" y="281.8"/>
<use href="#spb" x="835.2" y="298.5"/>
<use href="#spb" x="835.2" y="315.2"/>
<use href="#spb" x="835.2" y="331.8"/>
<use href="#spb" x="835.2" y="348.5"/>
<rect x="251" y="31" width="78" height="59" fill="#fff"/>
<rect x="251" y="289" width="78" height="63" fill="#fff"/>
<line x1="282.2" y1="55.6" x2="281.4" y2="41.6" stroke="#c4c4c4" stroke-width="3"/><line x1="282.2" y1="55.6" x2="292.2" y2="39" stroke="#c4c4c4" stroke-width="3"/><line x1="263.2" y1="58.1" x2="282.2" y2="55.6" stroke="#c4c4c4" stroke-width="3"/><line x1="282.2" y1="55.6" x2="296.3" y2="67.2" stroke="#c4c4c4" stroke-width="3"/><line x1="296.3" y1="67.2" x2="311.8" y2="56.7" stroke="#c4c4c4" stroke-width="3"/><line x1="311.8" y1="56.7" x2="306.2" y2="45.7" stroke="#c4c4c4" stroke-width="3"/><line x1="311.8" y1="56.7" x2="322" y2="48.2" stroke="#c4c4c4" stroke-width="3"/><line x1="311.8" y1="56.7" x2="322" y2="66.4" stroke="#c4c4c4" stroke-width="3"/><line x1="296.3" y1="67.2" x2="287.2" y2="78" stroke="#c4c4c4" stroke-width="3"/><line x1="296.3" y1="67.2" x2="302" y2="81.3" stroke="#c4c4c4" stroke-width="3"/>
<line x1="282.2" y1="317.3" x2="282.2" y2="296.6" stroke="#c4c4c4" stroke-width="3"/><line x1="282.2" y1="317.3" x2="292.2" y2="300.7" stroke="#c4c4c4" stroke-width="3"/><line x1="264" y1="320.6" x2="282.2" y2="317.3" stroke="#c4c4c4" stroke-width="3"/><line x1="282.2" y1="317.3" x2="294.6" y2="327.2" stroke="#c4c4c4" stroke-width="3"/><line x1="294.6" y1="327.2" x2="310.8" y2="318.2" stroke="#c4c4c4" stroke-width="3"/><line x1="310.8" y1="318.2" x2="303.7" y2="309" stroke="#c4c4c4" stroke-width="3"/><line x1="310.8" y1="318.2" x2="319.5" y2="309" stroke="#c4c4c4" stroke-width="3"/><line x1="310.8" y1="318.2" x2="322" y2="330.5" stroke="#c4c4c4" stroke-width="3"/><line x1="294.6" y1="327.2" x2="283.7" y2="337.7" stroke="#c4c4c4" stroke-width="3"/><line x1="294.6" y1="327.2" x2="302" y2="343.6" stroke="#c4c4c4" stroke-width="3"/>
<circle cx="281.4" cy="41.6" r="5.2" fill="url(#gH)"/>
<circle cx="292.2" cy="39" r="5.2" fill="url(#gH)"/>
<circle cx="306.2" cy="45.7" r="3.7" fill="url(#gH)"/>
<circle cx="322" cy="48.2" r="3.7" fill="url(#gH)"/>
<circle cx="322" cy="66.4" r="3.7" fill="url(#gH)"/>
<circle cx="263.2" cy="58.1" r="8" fill="url(#gCl)"/>
<circle cx="282.2" cy="55.6" r="6.6" fill="url(#gC)"/>
<circle cx="311.8" cy="56.7" r="6.9" fill="url(#gN)"/>
<circle cx="296.3" cy="67.2" r="6.6" fill="url(#gC)"/>
<circle cx="287.2" cy="78" r="5.2" fill="url(#gH)"/>
<circle cx="302" cy="81.3" r="5.2" fill="url(#gH)"/>
<circle cx="282.2" cy="296.6" r="5.2" fill="url(#gH)"/>
<circle cx="292.2" cy="300.7" r="5.2" fill="url(#gH)"/>
<circle cx="303.7" cy="309" r="3.7" fill="url(#gH)"/>
<circle cx="319.5" cy="309" r="3.7" fill="url(#gH)"/>
<circle cx="322" cy="330.5" r="3.7" fill="url(#gH)"/>
<circle cx="264" cy="320.6" r="8.5" fill="url(#gBr)"/>
<circle cx="282.2" cy="317.3" r="6.6" fill="url(#gC)"/>
<circle cx="310.8" cy="318.2" r="6.9" fill="url(#gN)"/>
<circle cx="294.6" cy="327.2" r="6.6" fill="url(#gC)"/>
<circle cx="283.7" cy="337.7" r="5.2" fill="url(#gH)"/>
<circle cx="302" cy="343.6" r="5.2" fill="url(#gH)"/>
<path d="M223.3,165.4 C257.4,124.5 306,95.5 358.3,86.3 L354.1,71.4 L379.8,98.4 L365.7,120.6 L364,106.9 C306,96.2 267,135.8 223.3,165.4Z" fill="url(#ga1)"/>
<path d="M223.3,223.2 C264.3,252.3 310.4,291.8 364.6,280.6 L367.2,267.1 L380.9,287.7 L355.1,315.3 L359.6,300.4 C306.9,294.6 258.5,261 223.3,223.2Z" fill="url(#ga2)"/>
<rect x="44" y="172" width="120" height="33" fill="#fff"/>
<rect x="557" y="66" width="119" height="34" fill="#fff"/>
<rect x="555" y="279" width="119" height="33.5" fill="#fff"/>
<rect x="542" y="173" width="174" height="34" fill="#fff"/>
<rect x="581" y="171.8" width="83" height="1.2" fill="#f6b0ec"/>
<rect x="582" y="207" width="81" height="1.2" fill="#f810f0"/><rect x="582" y="207" width="4" height="1.2" fill="#1040e0"/><rect x="659" y="207" width="4" height="1.2" fill="#1040e0"/>
<rect x="83.5" y="373.5" width="62" height="36" rx="4" fill="#f8cbad"/>
<rect x="584" y="373.5" width="87" height="36.5" rx="4" fill="#f8cbad"/>
<text x="88.79" y="47.26" font-family="Liberation Sans, sans-serif" font-weight="bold"  font-size="20.19" fill="#ff9c00" stroke="#ff9c00" stroke-width="1.1" textLength="16.55" lengthAdjust="spacingAndGlyphs">Cl</text>
<text x="88.27" y="85.06" font-family="Liberation Sans, sans-serif" font-weight="bold"  font-size="18.38" fill="#5a8a3a" stroke="#5a8a3a" stroke-width="1.0" textLength="19.88" lengthAdjust="spacingAndGlyphs">Br</text>
<text x="52.28" y="195.32" font-family="Liberation Sans, sans-serif" font-weight="bold"  font-size="18.81" fill="#1f4e79" stroke="#1f4e79" stroke-width="0.6" textLength="32.30" lengthAdjust="spacingAndGlyphs">PCE</text>
<text x="90.81" y="195.72" font-family="Liberation Sans, sans-serif" font-weight="bold"  font-size="18.81" fill="#1f4e79" stroke="#1f4e79" stroke-width="0.6" textLength="64.50" lengthAdjust="spacingAndGlyphs">18.98%</text>
<text x="564.34" y="90.02" font-family="Liberation Sans, sans-serif" font-weight="bold"  font-size="18.81" fill="#c00000" stroke="#c00000" stroke-width="0.6" textLength="32.63" lengthAdjust="spacingAndGlyphs">PCE</text>
<text x="603.53" y="90.22" font-family="Liberation Sans, sans-serif" font-weight="bold"  font-size="18.87" fill="#c00000" stroke="#c00000" stroke-width="0.6" textLength="63.28" lengthAdjust="spacingAndGlyphs">20.08%</text>
<text x="562.33" y="303.72" font-family="Liberation Sans, sans-serif" font-weight="bold"  font-size="19.90" fill="#c00000" stroke="#c00000" stroke-width="0.6" textLength="32.34" lengthAdjust="spacingAndGlyphs">PCE</text>
<text x="600.72" y="303.72" font-family="Liberation Sans, sans-serif" font-weight="bold"  font-size="19.30" fill="#c00000" stroke="#c00000" stroke-width="0.6" textLength="64.30" lengthAdjust="spacingAndGlyphs">19.79%</text>
<text x="549.02" y="197.72" font-family="Liberation Sans, sans-serif" font-weight="bold" font-style="italic" font-size="19.45" fill="#7030a0" stroke="#7030a0" stroke-width="0.5" textLength="74.33" lengthAdjust="spacingAndGlyphs">Superior</text>
<text x="630.06" y="196.77" font-family="Liberation Sans, sans-serif" font-weight="bold" font-style="italic" font-size="19.73" fill="#7030a0" stroke="#7030a0" stroke-width="0.5" textLength="72.02" lengthAdjust="spacingAndGlyphs">Stability</text>
<text x="288.94" y="152.64" font-family="Liberation Sans, sans-serif" font-weight="bold"  font-size="22.32" fill="#ff9c00" stroke="#ff9c00" stroke-width="1.5" textLength="40.76" lengthAdjust="spacingAndGlyphs">CEA</text>
<text x="329.97" y="144.15" font-family="Liberation Sans, sans-serif" font-weight="bold"  font-size="14.03" fill="#ff9c00" stroke="#ff9c00" stroke-width="1.2" textLength="7.69" lengthAdjust="spacingAndGlyphs">+</text>
<text x="289.38" y="254.15" font-family="Liberation Sans, sans-serif" font-weight="bold"  font-size="22.77" fill="#5a8a3a" stroke="#5a8a3a" stroke-width="1.5" textLength="40.98" lengthAdjust="spacingAndGlyphs">BEA</text>
<text x="330.58" y="246.48" font-family="Liberation Sans, sans-serif" font-weight="bold"  font-size="14.88" fill="#5a8a3a" stroke="#5a8a3a" stroke-width="1.2" textLength="8.14" lengthAdjust="spacingAndGlyphs">+</text>
<text x="100.64" y="399.92" font-family="Liberation Sans, sans-serif" font-weight="bold"  font-size="22.11" fill="#1f3864" stroke="#1f3864" stroke-width="0.0" textLength="27.97" lengthAdjust="spacingAndGlyphs">3D</text>
<text x="593.69" y="404.30" font-family="Liberation Sans, sans-serif" font-weight="bold"  font-size="28.20" fill="#c00000" stroke="#c00000" stroke-width="0.6" textLength="66.73" lengthAdjust="spacingAndGlyphs">2D/3D</text>
</svg>
</body></html>
